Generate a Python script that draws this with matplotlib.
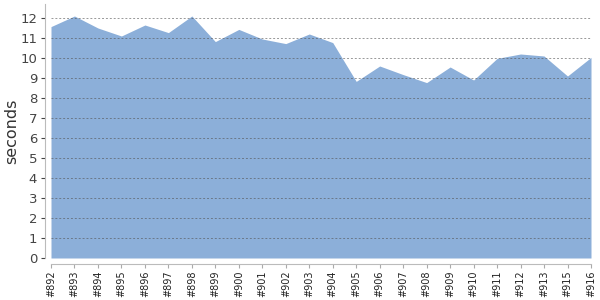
import matplotlib
matplotlib.use("Agg")
import matplotlib.pyplot as plt

builds = ["#892", "#893", "#894", "#895", "#896", "#897", "#898", "#899", "#900",
          "#901", "#902", "#903", "#904", "#905", "#906", "#907", "#908", "#909",
          "#910", "#911", "#912", "#913", "#915", "#916"]
seconds = [11.57, 12.1, 11.5, 11.1, 11.65, 11.27, 12.1, 10.82, 11.43, 10.95, 10.72,
           11.2, 10.77, 8.83, 9.6, 9.17, 8.77, 9.55, 8.9, 9.98, 10.2, 10.1, 9.1, 10.03]
yticks = list(range(0, 13))

fig = plt.figure(figsize=(6, 3), dpi=100)
ax = fig.add_axes([51/600, 1-258/300, 540/600, 254/300])
x = list(range(len(builds)))
ax.fill_between(x, 0, seconds, color="#8cafd9", linewidth=0, zorder=1)
ax.set_xlim(0, len(builds)-1)
ax.set_ylim(0, 12.7)
ax.set_yticks(yticks)
ax.set_xticks(x)
ax.set_xticklabels(builds)
ax.tick_params(axis="y", labelsize=9.5, colors="#444", length=3, width=0.8, pad=3)
ax.tick_params(axis="x", length=3, width=0.8, colors="#aaa", labelcolor="#222",
               pad=2, labelsize=7, labelrotation=90)
for v in yticks[1:]:
    ax.axhline(v, color="#555", linestyle=(0, (2, 2)), linewidth=0.7, alpha=0.6, zorder=2)
for s in ["top", "right"]:
    ax.spines[s].set_visible(False)
for s in ["left", "bottom"]:
    ax.spines[s].set_color("#bbb")
    ax.spines[s].set_position(("outward", 4))
ax.set_ylabel("seconds", fontsize=11.5, color="#333")
ax.yaxis.set_label_coords(-(51-19)/540, 0.5)
fig.savefig("out.png", dpi=100)
